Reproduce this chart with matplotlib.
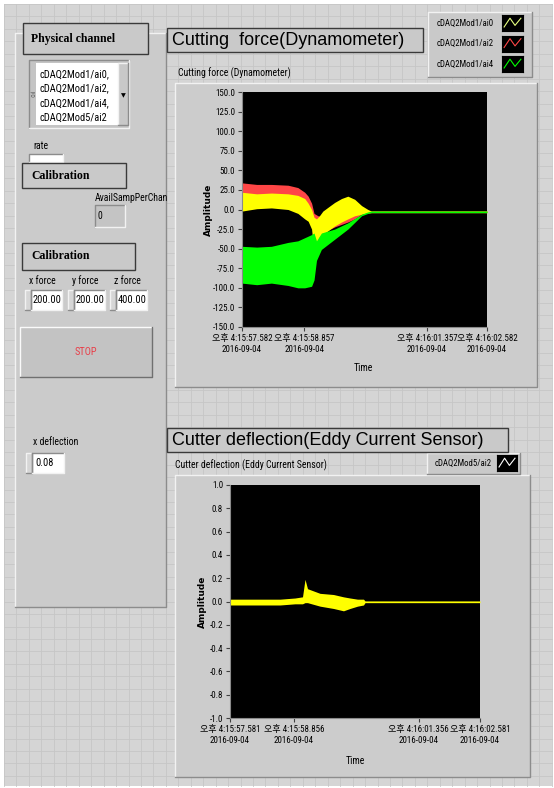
import numpy as np
import matplotlib.pyplot as plt
from matplotlib import font_manager
from matplotlib.patches import Rectangle
from matplotlib.ticker import FormatStrFormatter

W, H = 554, 788

# ---- values (seconds after first sample) ----
force_tick_t = [0.0, 1.275, 3.775, 5.0]
force_tick_labels = ["오후 4:15:57.582\n2016-09-04", "오후 4:15:58.857\n2016-09-04",
                     "오후 4:16:01.357\n2016-09-04", "오후 4:16:02.582\n2016-09-04"]
defl_tick_t = [0.0, 1.275, 3.775, 5.0]
defl_tick_labels = ["오후 4:15:57.581\n2016-09-04", "오후 4:15:58.856\n2016-09-04",
                    "오후 4:16:01.356\n2016-09-04", "오후 4:16:02.581\n2016-09-04"]
force_yticks = [-150, -125, -100, -75, -50, -25, 0, 25, 50, 75, 100, 125, 150]
defl_yticks = [-1.0, -0.8, -0.6, -0.4, -0.2, 0.0, 0.2, 0.4, 0.6, 0.8, 1.0]

# envelopes of the noisy traces (upper / lower), cutting force
ai0_t = [0, 0.3, 0.6, 0.94, 1.14, 1.28, 1.35, 1.42, 1.47, 1.52, 1.58, 1.65, 1.78, 1.89, 2.03, 2.16, 2.3, 2.44, 2.57, 2.64, 5.0]
ai0_up = [22, 20, 21, 20, 18, 14, 8, 0, -10, -12, -8, -2, 4, 9, 14, 17, 13, 5, 0, -2, -2]
ai0_lo = [-2, 1, 2, 0, -5, -12, -15, -25, -55, -45, -35, -32, -26, -21, -16, -12, -8, -6, -4, -4, -4]

ai2_t = [0, 0.3, 0.6, 0.94, 1.14, 1.28, 1.35, 1.42, 1.47, 1.55, 1.7, 1.9, 2.16, 2.3, 2.44, 2.64, 5.0]
ai2_up = [34, 32, 32, 31, 28, 22, 17, 8, -5, -8, -10, -8, -6, -5, -3, -2, -2]
ai2_lo = [18, 18, 18, 17, 14, 8, 0, -10, -15, -25, -28, -22, -16, -12, -6, -4, -4]

ai4_t = [0, 0.3, 0.6, 0.94, 1.14, 1.28, 1.42, 1.47, 1.52, 1.62, 1.89, 2.16, 2.44, 2.57, 2.64, 5.0]
ai4_up = [-47, -48, -47, -42, -40, -36, -32, -30, -40, -30, -25, -17, -6, -3, -2, -2]
ai4_lo = [-94, -96, -94, -97, -100, -100, -98, -90, -65, -51, -38, -25, -8, -5, -4, -4]

# cutter deflection
defl_t = [0, 0.5, 1.0, 1.3, 1.45, 1.5, 1.55, 1.8, 2.07, 2.27, 2.4, 2.55, 2.67, 2.7, 5.0]
defl_up = [0.02, 0.02, 0.02, 0.03, 0.04, 0.19, 0.11, 0.07, 0.06, 0.04, 0.03, 0.02, 0.02, 0.005, 0.005]
defl_lo = [-0.03, -0.03, -0.03, -0.02, -0.02, -0.01, -0.01, -0.04, -0.06, -0.08, -0.06, -0.04, -0.03, -0.01, -0.01]

legend_top = ["cDAQ2Mod1/ai0", "cDAQ2Mod1/ai2", "cDAQ2Mod1/ai4"]
legend_bottom = ["cDAQ2Mod5/ai2"]
channels = ["cDAQ2Mod1/ai0,", "cDAQ2Mod1/ai2,", "cDAQ2Mod1/ai4,", "cDAQ2Mod5/ai2"]
forces = [("x force", "200.00"), ("y force", "200.00"), ("z force", "400.00")]

YEL, RED, GRN = '#ffff00', '#ff4646', '#00ff00'
ZIG_X = [0.1, 0.38, 0.62, 0.9]
ZIG_Y = [0.25, 0.8, 0.35, 0.8]

installed = {f.name for f in font_manager.fontManager.ttflist}
NARROW = next((f for f in ['Liberation Sans Narrow', 'Roboto Condensed', 'Liberation Sans']
               if f in installed), 'DejaVu Sans')
plt.rcParams['font.family'] = [NARROW, 'Noto Sans CJK KR', 'DejaVu Sans']

fig = plt.figure(figsize=(W / 100, H / 100), dpi=100)
fig.patch.set_facecolor('white')
bg = fig.add_axes([0, 0, 1, 1])
bg.set_xlim(0, W)
bg.set_ylim(H, 0)
bg.axis('off')


def px_axes(x0, y0, x1, y1):
    return fig.add_axes([x0 / W, 1 - y1 / H, (x1 - x0) / W, (y1 - y0) / H])


def box(x0, y0, x1, y1, fc, ec='none', lw=1.0, z=1):
    bg.add_patch(Rectangle((x0, y0), x1 - x0, y1 - y0, facecolor=fc,
                           edgecolor=ec, linewidth=lw, zorder=z))


def bevel(x0, y0, x1, y1, fc, light='#f2f2f2', dark='#8c8c8c', z=1, sunken=False):
    box(x0, y0, x1, y1, fc, z=z)
    a, b = (dark, light) if sunken else (light, dark)
    bg.plot([x0, x0, x1], [y1, y0, y0], color=a, lw=1, zorder=z + 0.1)
    bg.plot([x0, x1, x1], [y1, y1, y0], color=b, lw=1, zorder=z + 0.1)


def label(x, y, s, size=7, **kw):
    kw.setdefault('va', 'center')
    kw.setdefault('ha', 'left')
    bg.text(x, y, s, fontsize=size, zorder=5, **kw)


# front panel grid
box(4, 4, 552, 786, '#d5d5d5', z=0)
for gx in np.arange(4, 552, 12.45):
    bg.plot([gx, gx], [4, 786], color='#c6c6c6', lw=0.6, zorder=0.5)
for gy in np.arange(4, 786, 12.45):
    bg.plot([4, 552], [gy, gy], color='#c6c6c6', lw=0.6, zorder=0.5)

# ---- left control panel ----
bevel(15, 33, 166, 607, '#cbcbcb')
box(23, 23, 148, 54, '#c9c9c9', ec='#3a3a3a', lw=1, z=3)
label(31, 39, "Physical channel", size=8.5, family='Liberation Serif', weight='bold')

bevel(29, 60, 129, 128, '#c4c4c4', sunken=True, z=2)
box(36, 63, 118, 125, 'white', z=3)
bevel(118, 63, 128, 125, '#c8c8c8', z=3)
label(123, 96, "▼", size=4.5, ha='center', family='DejaVu Sans')
label(32, 94, "I/O", size=4, rotation=270, ha='center', color='#404040')
for i, ch in enumerate(channels):
    label(39, 74 + 14.5 * i, ch, size=7.5)

label(33, 146, "rate", size=7)
bevel(29, 154, 63, 162, 'white', sunken=True, z=2)

box(22, 163, 126, 188, '#c9c9c9', ec='#3a3a3a', lw=1, z=3)
label(31, 176, "Calibration", size=8.5, family='Liberation Serif', weight='bold')
label(95, 198, "AvailSampPerChan", size=7)
bevel(95, 205, 125, 227, '#c4c4c4', sunken=True, z=2)
label(98, 216, "0", size=7)

box(22, 243, 135, 270, '#c9c9c9', ec='#3a3a3a', lw=1, z=3)
label(31, 256, "Calibration", size=8.5, family='Liberation Serif', weight='bold')
for i, (name, val) in enumerate(forces):
    x0 = [25, 68, 110][i]
    label(x0 + 17, 281, name, size=7, ha='center')
    bevel(x0, 290, x0 + 6, 310, '#d6d6d6', z=2)
    bevel(x0 + 6, 290, x0 + 37, 310, 'white', sunken=True, z=2)
    label(x0 + 8, 300, val, size=7.5)

bevel(20, 327, 152, 377, '#c3c3c3', light='#fafafa', dark='#707070', z=2)
label(86, 352, "STOP", size=7.5, ha='center', color='#e8404a')

label(33, 442, "x deflection", size=7)
bevel(26, 453, 32, 473, '#d6d6d6', z=2)
bevel(32, 453, 64, 473, 'white', sunken=True, z=2)
label(35, 463, "0.08", size=7.5)

# ---- chart panels ----
bevel(175, 83, 537, 387, '#cccccc')
box(167, 28, 423, 52, '#c9c9c9', ec='#3a3a3a', lw=1, z=3)
label(172, 40, "Cutting  force(Dynamometer)", size=13, family='Liberation Sans')
label(178, 73, "Cutting force (Dynamometer)", size=7)
bevel(428, 12, 532, 77, '#c9c9c9', z=2)
for i, name in enumerate(legend_top):
    label(437, 23 + 20.5 * i, name, size=6.3)

bevel(175, 475, 530, 777, '#cccccc')
box(167, 428, 508, 452, '#c9c9c9', ec='#3a3a3a', lw=1, z=3)
label(172, 440, "Cutter deflection(Eddy Current Sensor)", size=13, family='Liberation Sans')
label(175, 465, "Cutter deflection (Eddy Current Sensor)", size=7)
bevel(427, 453, 520, 474, '#c9c9c9', z=2)
label(435, 463, legend_bottom[0], size=6.3)

label(208, 210, "Amplitude", size=6.5, rotation=90, ha='center', weight='bold', family='DejaVu Sans')
label(363, 368, "Time", size=7, ha='center')
label(202, 602, "Amplitude", size=6.5, rotation=90, ha='center', weight='bold', family='DejaVu Sans')
label(355, 761, "Time", size=7, ha='center')


def style_axes(ax, ticks_t, tick_labels):
    ax.set_facecolor('black')
    ax.set_xlim(0, 5)
    ax.set_xticks(ticks_t)
    ax.set_xticklabels(tick_labels, linespacing=1.25)
    ax.tick_params(length=3, width=0.8, color='#404040', labelsize=6.5, pad=2)
    for s in ['top', 'right']:
        ax.spines[s].set_visible(False)
    for s in ['left', 'bottom']:
        ax.spines[s].set_color('#8a8a8a')


# legend swatches
for i, col in enumerate([YEL, RED, GRN]):
    sw = px_axes(502, 15 + 20.5 * i, 523, 31 + 20.5 * i)
    sw.set_facecolor('black')
    sw.plot(ZIG_X, ZIG_Y, color=col if i != 0 else '#e6ff80', lw=0.8)
    sw.set_xlim(0, 1); sw.set_ylim(0, 1)
    sw.set_xticks([]); sw.set_yticks([])
sw = px_axes(497, 455, 517, 471)
sw.set_facecolor('black')
sw.plot(ZIG_X, ZIG_Y, color='white', lw=0.8)
sw.set_xlim(0, 1); sw.set_ylim(0, 1)
sw.set_xticks([]); sw.set_yticks([])

# cutting force graph
ax1 = px_axes(242, 92, 487, 327)
ax1.fill_between(ai2_t, ai2_lo, ai2_up, color=RED, lw=0)
ax1.fill_between(ai0_t, ai0_lo, ai0_up, color=YEL, lw=0)
ax1.fill_between(ai4_t, ai4_lo, ai4_up, color=GRN, lw=0)
ax1.set_ylim(-150, 150)
ax1.set_yticks(force_yticks)
ax1.yaxis.set_major_formatter(FormatStrFormatter('%.1f'))
style_axes(ax1, force_tick_t, force_tick_labels)

# deflection graph
ax2 = px_axes(230, 485, 480, 718)
ax2.fill_between(defl_t, defl_lo, defl_up, color=YEL, lw=0)
ax2.set_ylim(-1, 1)
ax2.set_yticks(defl_yticks)
ax2.yaxis.set_major_formatter(FormatStrFormatter('%.1f'))
style_axes(ax2, defl_tick_t, defl_tick_labels)

fig.savefig('out.png', dpi=100)
